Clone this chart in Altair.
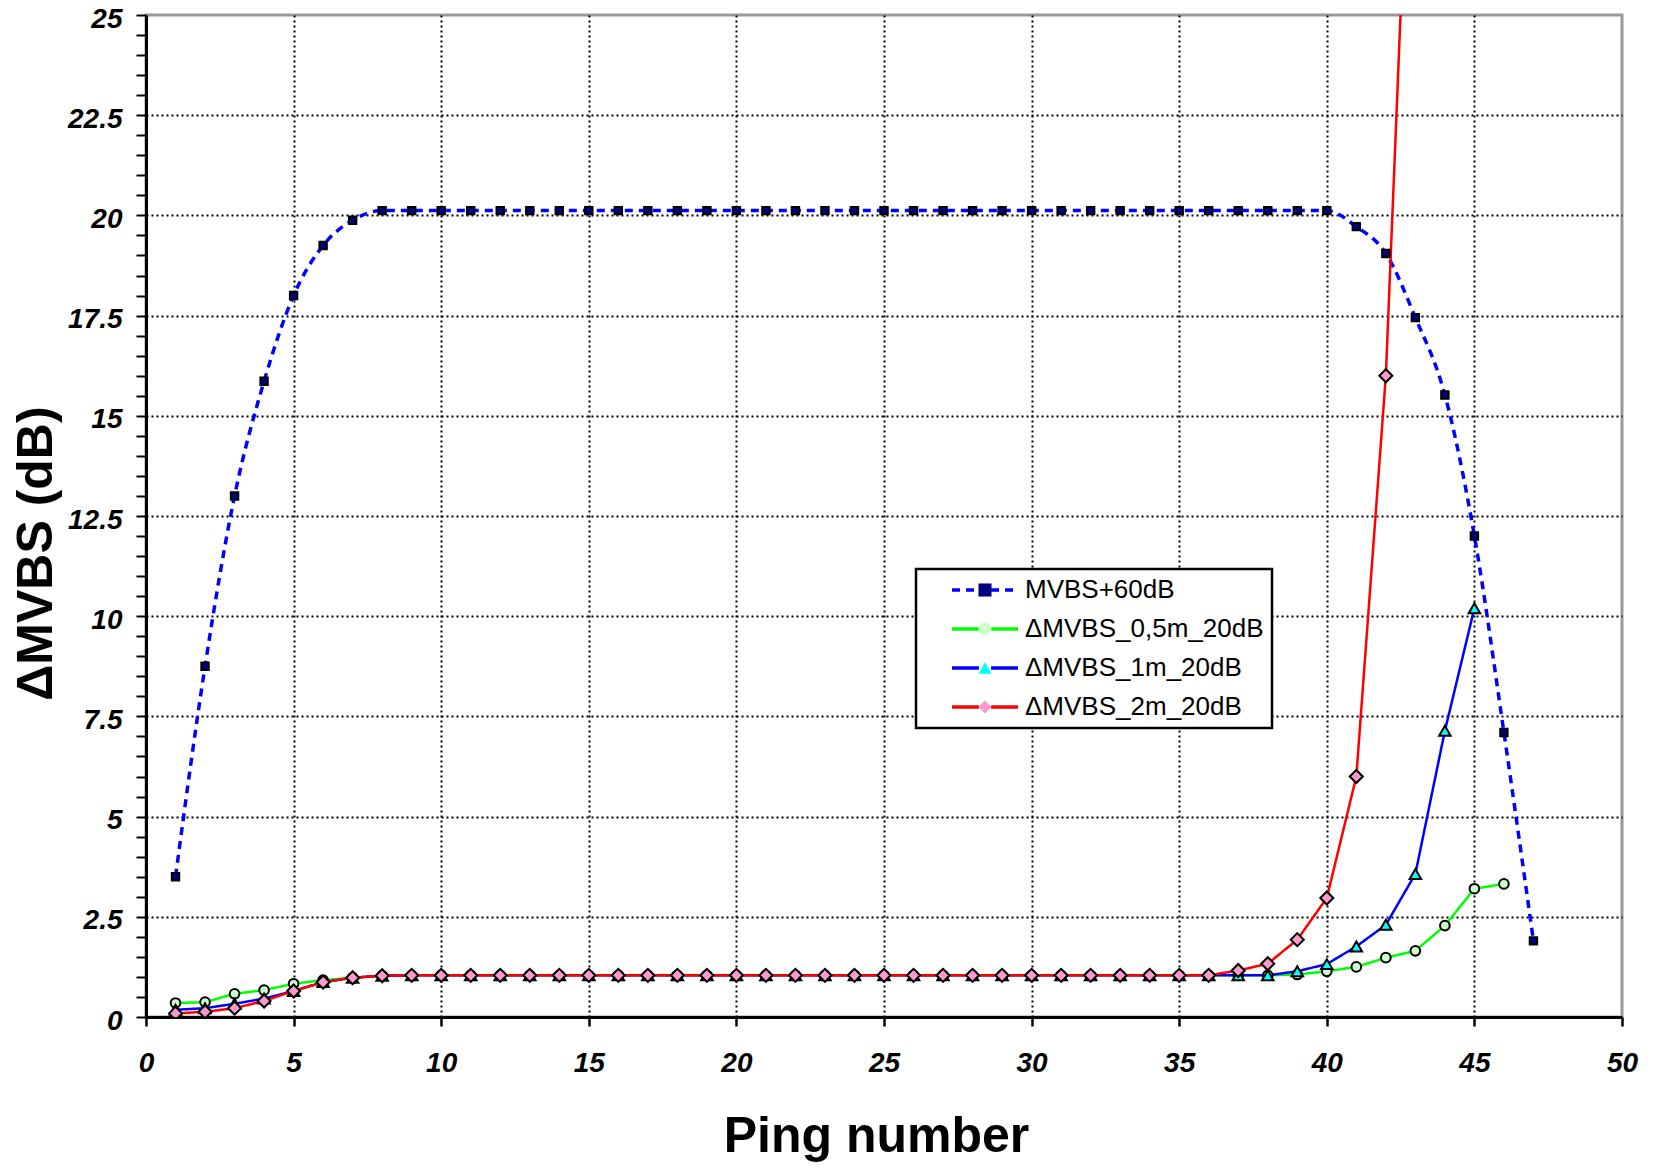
import altair as alt
import pandas as pd

SERIES = ["MVBS+60dB", "ΔMVBS_0,5m_20dB", "ΔMVBS_1m_20dB", "ΔMVBS_2m_20dB"]
MARKER_KEYS = ["MVBS+60dB ", "ΔMVBS_0,5m_20dB ", "ΔMVBS_1m_20dB ", "ΔMVBS_2m_20dB "]
SIZE_KEYS = ["MVBS+60dB  ", "ΔMVBS_0,5m_20dB  ", "ΔMVBS_1m_20dB  ", "ΔMVBS_2m_20dB  "]
LINE_COLORS = ["#0000FF", "#00FF00", "#0000FF", "#FF0000"]
LINE_DASHES = [[8, 6], [1, 0], [1, 0], [1, 0]]
MARKER_FILLS = ["#000080", "#CCFFCC", "#00FFFF", "#FF99CC"]
MARKER_SHAPES = ["square", "circle", "triangle-up", "diamond"]
MARKER_SIZES = [55, 170, 220, 190]

X_TICKS = [0, 5, 10, 15, 20, 25, 30, 35, 40, 45, 50]
Y_TICKS = [0, 0.5, 1, 1.5, 2, 2.5, 3, 3.5, 4, 4.5, 5, 5.5, 6, 6.5, 7, 7.5, 8, 8.5, 9, 9.5,
           10, 10.5, 11, 11.5, 12, 12.5, 13, 13.5, 14, 14.5, 15, 15.5, 16, 16.5, 17, 17.5,
           18, 18.5, 19, 19.5, 20, 20.5, 21, 21.5, 22, 22.5, 23, 23.5, 24, 24.5, 25]

mvbs_ping = list(range(1, 48))
mvbs_val = [3.5, 8.75, 13.0, 15.86, 18.0, 19.25, 19.88, 20.12, 20.12, 20.12,
            20.12, 20.12, 20.12, 20.12, 20.12, 20.12, 20.12, 20.12, 20.12, 20.12,
            20.12, 20.12, 20.12, 20.12, 20.12, 20.12, 20.12, 20.12, 20.12, 20.12,
            20.12, 20.12, 20.12, 20.12, 20.12, 20.12, 20.12, 20.12, 20.12, 20.12,
            19.72, 19.05, 17.45, 15.52, 12.0, 7.1, 1.9]

g05_ping = list(range(1, 47))
g05_val = [0.35, 0.37, 0.58, 0.67, 0.83, 0.92, 0.98, 1.03, 1.04, 1.04,
           1.04, 1.04, 1.04, 1.04, 1.04, 1.04, 1.04, 1.04, 1.04, 1.04,
           1.04, 1.04, 1.04, 1.04, 1.04, 1.04, 1.04, 1.04, 1.04, 1.04,
           1.04, 1.04, 1.04, 1.04, 1.04, 1.04, 1.04, 1.04, 1.06, 1.14,
           1.25, 1.48, 1.65, 2.28, 3.2, 3.32]

b1_ping = list(range(1, 46))
b1_val = [0.18, 0.22, 0.33, 0.46, 0.65, 0.87, 0.98, 1.03, 1.04, 1.04,
          1.04, 1.04, 1.04, 1.04, 1.04, 1.04, 1.04, 1.04, 1.04, 1.04,
          1.04, 1.04, 1.04, 1.04, 1.04, 1.04, 1.04, 1.04, 1.04, 1.04,
          1.04, 1.04, 1.04, 1.04, 1.04, 1.04, 1.04, 1.04, 1.14, 1.32,
          1.76, 2.3, 3.57, 7.14, 10.2]

r2_ping = list(range(1, 44))
r2_val = [0.09, 0.13, 0.22, 0.4, 0.65, 0.87, 0.98, 1.03, 1.04, 1.04,
          1.04, 1.04, 1.04, 1.04, 1.04, 1.04, 1.04, 1.04, 1.04, 1.04,
          1.04, 1.04, 1.04, 1.04, 1.04, 1.04, 1.04, 1.04, 1.04, 1.04,
          1.04, 1.04, 1.04, 1.04, 1.04, 1.04, 1.16, 1.33, 1.93, 2.97,
          6.0, 16.0, 34.1]

rows = []
for name, key, skey, pings, vals in zip(SERIES, MARKER_KEYS, SIZE_KEYS,
                                        [mvbs_ping, g05_ping, b1_ping, r2_ping],
                                        [mvbs_val, g05_val, b1_val, r2_val]):
    for p, v in zip(pings, vals):
        rows.append({"ping": p, "value": v, "series": name, "marker": key, "msize": skey})
df = pd.DataFrame(rows)

FONT = "Liberation Sans"

x_axis = alt.Axis(
    values=X_TICKS, title="Ping number", titleFont=FONT, titleFontSize=50,
    titleFontWeight="bold", titleColor="black", titlePadding=34, titleX=730,
    labelFont=FONT, labelFontSize=28, labelFontWeight="bold", labelFontStyle="italic",
    labelColor="black", labelPadding=23, labelOverlap=False, labelFlush=False,
    tickSize=9, tickWidth=2.5, tickColor="black",
    domainColor="black", domainWidth=3,
    grid=True, gridColor="black", gridWidth=2, gridDash=[2, 3],
    gridOpacity={"condition": {"test": "datum.value > 0 && datum.value < 50", "value": 1}, "value": 0},
)
y_axis = alt.Axis(
    values=Y_TICKS, orient="left", title="ΔMVBS (dB)", titleFont=FONT, titleFontSize=50,
    titleFontWeight="bold", titleColor="black", titlePadding=6, titleY=538,
    labelFont=FONT, labelFontSize=28, labelFontWeight="bold", labelFontStyle="italic",
    labelColor="black", labelPadding=14, labelOverlap=False, labelOffset=4, labelFlush=False,
    labelExpr="datum.value % 2.5 === 0 ? format(datum.value, '~g') : ''",
    tickSize=10, tickWidth=2, tickColor="black",
    domainColor="black", domainWidth=3,
    grid=True, gridColor="black", gridWidth=2, gridDash=[2, 3],
    gridOpacity={"condition": {"test": "datum.value % 2.5 === 0 && datum.value > 0 && datum.value < 25", "value": 1}, "value": 0},
)

X = alt.X("ping:Q", scale=alt.Scale(domain=[0, 50], nice=False, zero=False), axis=x_axis)
Y = alt.Y("value:Q", scale=alt.Scale(domain=[0, 25], nice=False), axis=y_axis)

# line part of the legend: white box, black border, lines with a gap where the marker sits
line_legend = alt.Legend(
    orient="none", legendX=770, legendY=554, title=None,
    symbolType="M-3,0H-0.55M0.55,0H3", symbolSize=484, symbolStrokeWidth=3.5,
    symbolOffset=48, labelOffset=27, labelLimit=400,
    labelFont=FONT, labelFontSize=26, labelColor="black", rowPadding=13,
    padding=8, strokeColor="black", fillColor="white", zindex=1,
)
# marker part of the legend, drawn on top of the line part
marker_legend = alt.Legend(
    orient="none", legendX=770, legendY=554, title=None,
    symbolSize=170, symbolStrokeColor="black", symbolStrokeWidth=2, symbolOpacity=1,
    symbolOffset=48, labelOffset=2, labelLimit=400,
    labelExpr="'.'",
    labelFont=FONT, labelFontSize=26, labelOpacity=0, rowPadding=13,
    padding=8, zindex=2,
)

stroke_enc = alt.Stroke("series:N", scale=alt.Scale(domain=SERIES, range=LINE_COLORS), legend=line_legend)
dash_enc = alt.StrokeDash("series:N", scale=alt.Scale(domain=SERIES, range=LINE_DASHES), legend=line_legend)

mvbs_line = alt.Chart(df[df["series"] == SERIES[0]]).mark_line(
    strokeWidth=3.5, interpolate="monotone", clip=True
).encode(x=X, y=Y, stroke=stroke_enc, strokeDash=dash_enc)

other_lines = alt.Chart(df[df["series"] != SERIES[0]]).mark_line(
    strokeWidth=2.5, clip=True
).encode(x=X, y=Y, stroke=stroke_enc, strokeDash=dash_enc, detail="series:N")

points = alt.Chart(df).mark_point(
    filled=False, stroke="black", strokeWidth=2, opacity=1, clip=True
).encode(
    x=X, y=Y,
    shape=alt.Shape("marker:N", scale=alt.Scale(domain=MARKER_KEYS, range=MARKER_SHAPES), legend=marker_legend),
    fill=alt.Fill("marker:N", scale=alt.Scale(domain=MARKER_KEYS, range=MARKER_FILLS), legend=marker_legend),
    size=alt.Size("msize:N", scale=alt.Scale(domain=SIZE_KEYS, range=MARKER_SIZES), legend=None),
)

chart = alt.layer(mvbs_line, other_lines, points).properties(
    width=1476, height=1002,
    autosize=alt.AutoSizeParams(type="none"),
    padding={"left": 138, "top": 7, "right": 30, "bottom": 146},
    background="white",
).configure_view(
    stroke="#999999", strokeWidth=3
).configure_legend(
    strokeWidth=2.5
)

chart.save("out.html", embed_options={"renderer": "svg", "actions": False})
